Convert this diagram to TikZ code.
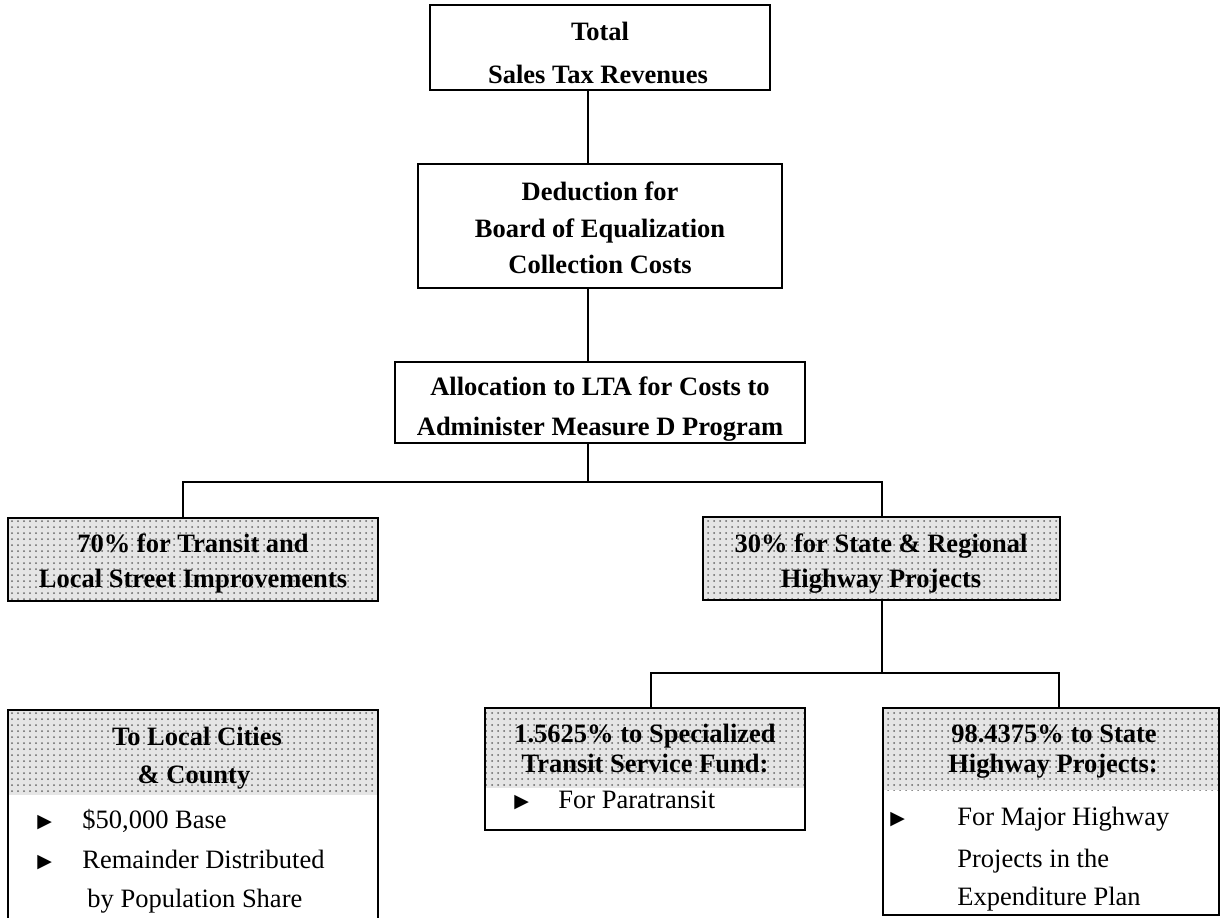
\documentclass[tikz,border=0pt]{standalone}
\usepackage{fontspec}
\setmainfont{Liberation Serif}
\newfontfamily\symfont{DejaVu Sans}
\usetikzlibrary{patterns,fit}
\begin{document}
\begin{tikzpicture}[x=0.5pt,y=-0.5pt,
  box/.style={draw, line width=1pt, inner sep=0pt},
  link/.style={line width=1pt},
  hd/.style={font=\fontsize{13.25}{15}\selectfont\bfseries, inner sep=0pt, anchor=base},
  tx/.style={font=\fontsize{13.25}{15}\selectfont, inner sep=0pt, anchor=base west},
  bul/.style={font=\symfont\fontsize{9.5}{10}\selectfont, inner sep=0pt, anchor=base west},
  shadebg/.style={fill=black!10},
  dotbg/.style={pattern=dots, pattern color=black!60}]
\useasboundingbox (0,0) rectangle (1226,917);
\clip (0,0) rectangle (1226,917);
% shaded headers
\foreach \a/\b in {{(8,518)}/{(378,601)},{(703,517)}/{(1060,600)},{(8,710)}/{(378,795)},{(485,708)}/{(805,788)},{(883,708)}/{(1219,790)}}{
  \fill[shadebg] \a rectangle \b;
  \fill[dotbg] \a rectangle \b;
}
% boxes
\node[box, fit={(430,5)(770,90)}] (b1) {};
\node[box, fit={(418,164)(782,288)}] (b2) {};
\node[box, fit={(395,362)(805,443)}] (b3) {};
\node[box, fit={(8,518)(378,601)}] (b4) {};
\node[box, fit={(703,517)(1060,600)}] (b5) {};
\node[box, fit={(8,710)(378,935)}] (b6) {};
\node[box, fit={(485,708)(805,830)}] (b7) {};
\node[box, fit={(883,708)(1219,915)}] (b8) {};
% texts
\node[hd] (t1a) at (600,40) {Total};
\node[hd] (t1b) at (598,83) {Sales Tax Revenues};
\node[hd] (t2a) at (600,200) {Deduction for};
\node[hd] (t2b) at (600,237) {Board of Equalization};
\node[hd] (t2c) at (600,273) {Collection Costs};
\node[hd] (t3a) at (600,395) {Allocation to LTA for Costs to};
\node[hd] (t3b) at (600,435) {Administer Measure D Program};
\node[hd] (t4a) at (193,552) {70\% for Transit and};
\node[hd] (t4b) at (193,587) {Local Street Improvements};
\node[hd] (t5a) at (881,552) {30\% for State \& Regional};
\node[hd] (t5b) at (881,587) {Highway Projects};
\node[hd] (t6a) at (197,745) {To Local Cities};
\node[hd] (t6b) at (194,783) {\& County};
\node[bul] (u6a) at (37,827) {▶};
\node[tx] (t6c) at (82,828) {\$50,000 Base};
\node[bul] (u6b) at (37,867) {▶};
\node[tx] (t6d) at (82,868) {Remainder Distributed};
\node[tx] (t6e) at (87,907) {by Population Share};
\node[hd] (t7a) at (645,742) {1.5625\% to Specialized};
\node[hd] (t7b) at (645,772) {Transit Service Fund:};
\node[bul] (u7a) at (514,807) {▶};
\node[tx] (t7c) at (558,808) {For Paratransit};
\node[hd] (t8a) at (1054,742) {98.4375\% to State};
\node[hd] (t8b) at (1053,772) {Highway Projects:};
\node[bul] (u8a) at (890,824) {▶};
\node[tx] (t8c) at (957,825) {For Major Highway};
\node[tx] (t8d) at (957,867) {Projects in the};
\node[tx] (t8e) at (957,905) {Expenditure Plan};
% connectors
\coordinate (c0) at (588,482);
\coordinate (c4) at (183,482);
\coordinate (c5) at (882,482);
\coordinate (c6) at (651,673);
\coordinate (c8) at (1059,673);
\draw[link] (b1.south -| c0) -- (b2.north -| c0);
\draw[link] (b2.south -| c0) -- (b3.north -| c0);
\draw[link] (b3.south -| c0) -- (c0);
\draw[link] (b4.north -| c4) -- (c4) -- (c5) -- (b5.north -| c5);
\draw[link] (b5.south -| c5) -- (c5 |- c6);
\draw[link] (b7.north -| c6) -- (c6) -- (c8) -- (b8.north -| c8);
\end{tikzpicture}
\end{document}
